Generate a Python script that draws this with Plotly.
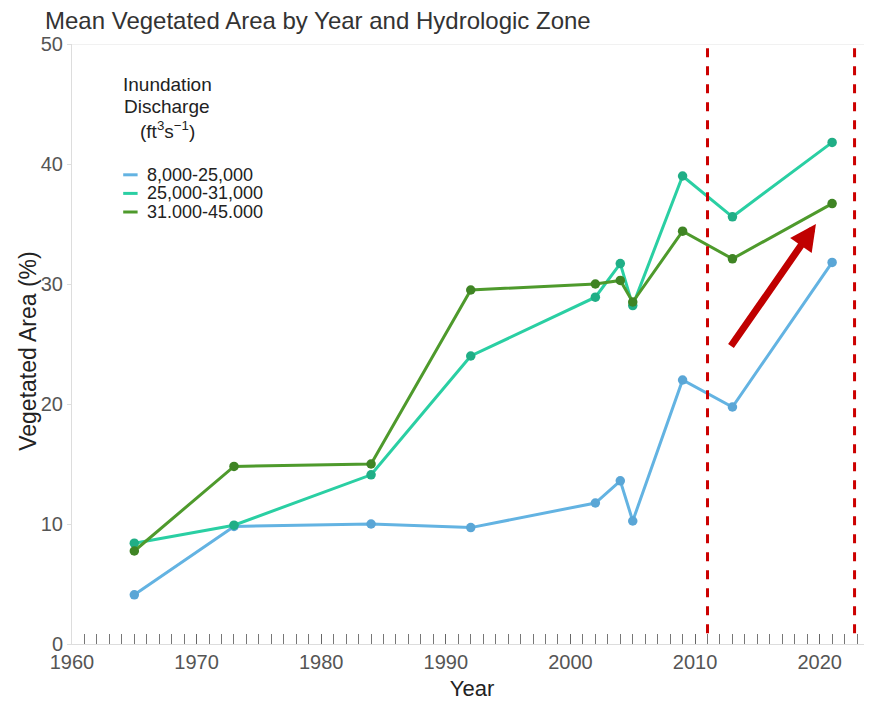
import plotly.graph_objects as go

years = [1965, 1973, 1984, 1992, 2002, 2004, 2005, 2009, 2013, 2021]
low_flow = [4.1, 9.8, 10.0, 9.7, 11.75, 13.6, 10.25, 22.0, 19.75, 31.8]
mid_flow = [8.4, 9.9, 14.1, 24.0, 28.9, 31.7, 28.2, 39.0, 35.6, 41.8]
high_flow = [7.75, 14.8, 15.0, 29.5, 30.0, 30.3, 28.5, 34.4, 32.1, 36.7]

series_names = ["8,000-25,000", "25,000-31,000", "31.000-45.000"]
line_colors = ["#63B3E2", "#2ACFA3", "#4E9A2C"]
marker_colors = ["#5AA6D6", "#20AE86", "#3F8424"]

# period highlighted by the dashed lines and the trend arrow
window_years = [2011, 2022.8]
arrow_from = (2012.8, 24.7)
arrow_to = (2019.7, 35.0)

font = "Liberation Sans, Arial, sans-serif"

# the html page keeps an 8px body margin, so the figure is a little smaller
W, H = 864, 694

fig = go.Figure()

for name, vals, lc, mc in zip(series_names, [low_flow, mid_flow, high_flow], line_colors, marker_colors):
    fig.add_trace(go.Scatter(
        x=years, y=vals, mode="lines+markers", name=name, showlegend=False,
        line=dict(color=lc, width=3),
        marker=dict(color=mc, size=9.5),
        cliponaxis=False,
    ))

for xv in window_years:
    fig.add_shape(type="line", x0=xv, x1=xv, y0=0.9, y1=50, xref="x", yref="y",
                  line=dict(color="#CC0000", width=3, dash="dash"))

fig.add_annotation(
    x=arrow_to[0], y=arrow_to[1], ax=arrow_from[0], ay=arrow_from[1],
    xref="x", yref="y", axref="x", ayref="y", text="", showarrow=True,
    arrowhead=2, arrowsize=0.75, arrowwidth=7, arrowcolor="#C00000",
)

# legend: title lines, then one short dash and label per zone
title_lines = ["Inundation", "Discharge", "(ft<sup>3</sup>s<sup>\u22121</sup>)"]
for txt, ly in zip(title_lines, [0.932, 0.895, 0.857]):
    fig.add_annotation(x=0.119, y=ly, xref="paper", yref="paper", showarrow=False,
                       xanchor="center", yanchor="middle", text=txt,
                       font=dict(family=font, size=19, color="#222222"))

legend_rows = [0.782, 0.751, 0.72]
for name, lc, ly in zip(series_names, line_colors, legend_rows):
    fig.add_shape(type="line", x0=0.064, x1=0.082, y0=ly, y1=ly, xref="paper", yref="paper",
                  line=dict(color=lc, width=3))
    fig.add_annotation(x=0.091, y=ly, xref="paper", yref="paper", showarrow=False,
                       xanchor="left", yanchor="middle", text=name,
                       font=dict(family=font, size=18, color="#222222"))

# y axis title placed by hand
fig.add_annotation(x=-0.055, y=0.487, xref="paper", yref="paper", showarrow=False,
                   textangle=-90, xanchor="center", yanchor="middle",
                   text="Vegetated Area (%)", font=dict(family=font, size=23, color="#222222"))

fig.update_layout(
    width=W, height=H,
    margin=dict(l=64, r=0, t=36, b=58),
    plot_bgcolor="white", paper_bgcolor="white",
    font=dict(family=font, color="#222222"),
    title=dict(text="Mean Vegetated Area by Year and Hydrologic Zone",
               x=37 / W, xanchor="left", y=1 - 13 / H, yanchor="middle",
               font=dict(size=24, color="#333333")),
    showlegend=False,
)

fig.update_xaxes(
    range=[1960, 2024.2], tickvals=[1960, 1970, 1980, 1990, 2000, 2010, 2020],
    ticks="inside", ticklen=10, tickcolor="#666666", tickwidth=1,
    minor=dict(dtick=1, tick0=1960, ticks="inside", ticklen=10, tickcolor="#777777", tickwidth=1),
    showgrid=False, zeroline=False, showline=True, linecolor="#DDDDDD",
    tickfont=dict(size=20, color="#555555"), automargin=False,
    title=dict(text="Year", font=dict(size=22, color="#222222"), standoff=8),
)
fig.update_yaxes(
    range=[0, 50], dtick=10, ticks="outside", ticklen=4, tickcolor="#DDDDDD",
    showgrid=False, zeroline=False, showline=True, linecolor="#DDDDDD",
    tickfont=dict(size=20, color="#555555"), automargin=False,
)
fig.add_shape(type="line", x0=0, x1=1, y0=50, y1=50, xref="paper", yref="y",
              line=dict(color="#E3E3E3", width=1), layer="below")

fig.write_html("out.html")
